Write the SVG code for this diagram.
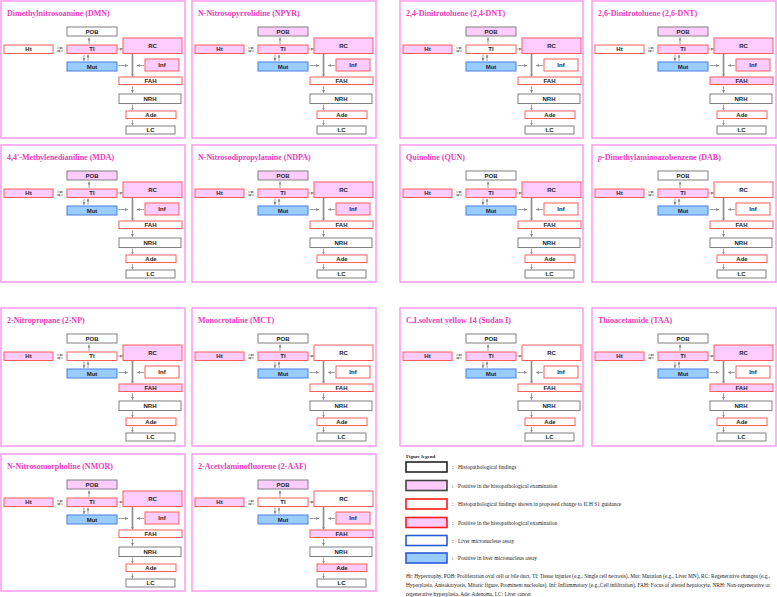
<svg xmlns="http://www.w3.org/2000/svg" width="777" height="597" viewBox="0 0 777 597">
<style>
.bg{fill:#fff}
.pb{fill:#fff;stroke:#ff9ff3;stroke-width:1.6}
.tt{font-family:"Liberation Serif","Times New Roman",serif;font-weight:bold;font-size:8px;fill:#ee3bbd}
.n rect{stroke-width:1}
.g rect{stroke:#808080}
.r rect{stroke:#ff5c5c}
.b rect{stroke:#4a7fe0}
.w rect{fill:#fff}
.p rect{fill:#ffccff}
.bl rect{fill:#99ccff}
.n text{font-family:"Liberation Sans",Arial,sans-serif;font-weight:bold;font-size:6px;fill:#222;text-anchor:middle}
.c line{stroke:#8a8a8a;stroke-width:0.8;marker-end:url(#ah)}
.c line.k{stroke-width:1.6}
.lg{font-family:"Liberation Serif","Times New Roman",serif;font-size:5.5px;fill:#222}
.lgh{font-family:"Liberation Serif","Times New Roman",serif;font-size:5px;font-weight:bold;fill:#222}
.fn{font-family:"Liberation Serif","Times New Roman",serif;font-size:5.3px;fill:#222}
.lb{stroke-width:1.6}
</style>
<defs>
<marker id="ah" markerUnits="userSpaceOnUse" markerWidth="3" markerHeight="3" refX="3" refY="1.5" orient="auto"><path d="M0,0 L3,1.5 L0,3 z" fill="#8a8a8a"/></marker>
</defs>
<rect class="bg" x="0" y="0" width="777" height="597"/>

<g id="p1" transform="translate(1,1)">
<rect class="pb" x="0" y="0" width="184" height="137"/>
<text class="tt" x="6" y="15">Dimethylnitrosoamine (DMN)</text>
<g class="c" id="p1-connectors"><line x1="56" y1="47" x2="62" y2="47"/><line x1="62" y1="50" x2="56" y2="50"/><line x1="88" y1="43" x2="88" y2="36.5"/><line x1="83" y1="53.5" x2="83" y2="60"/><line x1="87" y1="60" x2="87" y2="53.5"/><line x1="116.5" y1="48" x2="122" y2="48"/><line x1="117.5" y1="64.5" x2="127" y2="64.5"/><line x1="143" y1="64.5" x2="136" y2="64.5"/><line class="k" x1="131.5" y1="52.5" x2="131.5" y2="75.5"/><line x1="131.5" y1="85" x2="131.5" y2="92"/><line x1="131.5" y1="103.5" x2="131.5" y2="109.5"/><line x1="131.5" y1="119" x2="131.5" y2="124.5"/></g>
<g id="p1-POB" class="n g w"><rect x="66" y="26" width="50" height="9"/><text x="91" y="32.6">POB</text></g>
<g id="p1-Ht" class="n r w"><rect x="3" y="44" width="49" height="8.5"/><text x="27.5" y="50.4">Ht</text></g>
<g id="p1-TI" class="n r p"><rect x="66" y="44" width="50" height="8.5"/><text x="91" y="50.4">TI</text></g>
<g id="p1-RC" class="n r p"><rect x="122" y="37" width="59" height="15.5"/><text x="151.5" y="46.9">RC</text></g>
<g id="p1-Mut" class="n b bl"><rect x="66" y="61" width="50" height="9"/><text x="91" y="67.6">Mut</text></g>
<g id="p1-Inf" class="n r p"><rect x="144" y="58" width="34" height="12"/><text x="161" y="66.1">Inf</text></g>
<g id="p1-FAH" class="n r w"><rect x="118" y="76" width="63" height="7.5"/><text x="149.5" y="81.9">FAH</text></g>
<g id="p1-NRH" class="n g w"><rect x="118" y="93" width="62" height="9.5"/><text x="149" y="99.9">NRH</text></g>
<g id="p1-Ade" class="n r w"><rect x="125" y="110" width="50" height="7.5"/><text x="150" y="115.9">Ade</text></g>
<g id="p1-LC" class="n g w"><rect x="125" y="125" width="49" height="8"/><text x="149.5" y="131.1">LC</text></g>
</g>

<g id="p2" transform="translate(192,1)">
<rect class="pb" x="0" y="0" width="184" height="137"/>
<text class="tt" x="6" y="15">N-Nitrosopyrrolidine (NPYR)</text>
<g class="c" id="p2-connectors"><line x1="56" y1="47" x2="62" y2="47"/><line x1="62" y1="50" x2="56" y2="50"/><line x1="88" y1="43" x2="88" y2="36.5"/><line x1="83" y1="53.5" x2="83" y2="60"/><line x1="87" y1="60" x2="87" y2="53.5"/><line x1="116.5" y1="48" x2="122" y2="48"/><line x1="117.5" y1="64.5" x2="127" y2="64.5"/><line x1="143" y1="64.5" x2="136" y2="64.5"/><line class="k" x1="131.5" y1="52.5" x2="131.5" y2="75.5"/><line x1="131.5" y1="85" x2="131.5" y2="92"/><line x1="131.5" y1="103.5" x2="131.5" y2="109.5"/><line x1="131.5" y1="119" x2="131.5" y2="124.5"/></g>
<g id="p2-POB" class="n g p"><rect x="66" y="26" width="50" height="9"/><text x="91" y="32.6">POB</text></g>
<g id="p2-Ht" class="n r p"><rect x="3" y="44" width="49" height="8.5"/><text x="27.5" y="50.4">Ht</text></g>
<g id="p2-TI" class="n r p"><rect x="66" y="44" width="50" height="8.5"/><text x="91" y="50.4">TI</text></g>
<g id="p2-RC" class="n r p"><rect x="122" y="37" width="59" height="15.5"/><text x="151.5" y="46.9">RC</text></g>
<g id="p2-Mut" class="n b bl"><rect x="66" y="61" width="50" height="9"/><text x="91" y="67.6">Mut</text></g>
<g id="p2-Inf" class="n r p"><rect x="144" y="58" width="34" height="12"/><text x="161" y="66.1">Inf</text></g>
<g id="p2-FAH" class="n r w"><rect x="118" y="76" width="63" height="7.5"/><text x="149.5" y="81.9">FAH</text></g>
<g id="p2-NRH" class="n g w"><rect x="118" y="93" width="62" height="9.5"/><text x="149" y="99.9">NRH</text></g>
<g id="p2-Ade" class="n r w"><rect x="125" y="110" width="50" height="7.5"/><text x="150" y="115.9">Ade</text></g>
<g id="p2-LC" class="n g w"><rect x="125" y="125" width="49" height="8"/><text x="149.5" y="131.1">LC</text></g>
</g>

<g id="p3" transform="translate(400,1)">
<rect class="pb" x="0" y="0" width="183" height="137"/>
<text class="tt" x="6" y="15">2,4-Dinitrotoluene (2,4-DNT)</text>
<g class="c" id="p3-connectors"><line x1="56" y1="47" x2="62" y2="47"/><line x1="62" y1="50" x2="56" y2="50"/><line x1="88" y1="43" x2="88" y2="36.5"/><line x1="83" y1="53.5" x2="83" y2="60"/><line x1="87" y1="60" x2="87" y2="53.5"/><line x1="116.5" y1="48" x2="122" y2="48"/><line x1="117.5" y1="64.5" x2="127" y2="64.5"/><line x1="143" y1="64.5" x2="136" y2="64.5"/><line class="k" x1="131.5" y1="52.5" x2="131.5" y2="75.5"/><line x1="131.5" y1="85" x2="131.5" y2="92"/><line x1="131.5" y1="103.5" x2="131.5" y2="109.5"/><line x1="131.5" y1="119" x2="131.5" y2="124.5"/></g>
<g id="p3-POB" class="n g p"><rect x="66" y="26" width="50" height="9"/><text x="91" y="32.6">POB</text></g>
<g id="p3-Ht" class="n r p"><rect x="3" y="44" width="49" height="8.5"/><text x="27.5" y="50.4">Ht</text></g>
<g id="p3-TI" class="n r w"><rect x="66" y="44" width="50" height="8.5"/><text x="91" y="50.4">TI</text></g>
<g id="p3-RC" class="n r p"><rect x="122" y="37" width="59" height="15.5"/><text x="151.5" y="46.9">RC</text></g>
<g id="p3-Mut" class="n b bl"><rect x="66" y="61" width="50" height="9"/><text x="91" y="67.6">Mut</text></g>
<g id="p3-Inf" class="n r w"><rect x="144" y="58" width="34" height="12"/><text x="161" y="66.1">Inf</text></g>
<g id="p3-FAH" class="n r w"><rect x="118" y="76" width="63" height="7.5"/><text x="149.5" y="81.9">FAH</text></g>
<g id="p3-NRH" class="n g w"><rect x="118" y="93" width="62" height="9.5"/><text x="149" y="99.9">NRH</text></g>
<g id="p3-Ade" class="n r w"><rect x="125" y="110" width="50" height="7.5"/><text x="150" y="115.9">Ade</text></g>
<g id="p3-LC" class="n g w"><rect x="125" y="125" width="49" height="8"/><text x="149.5" y="131.1">LC</text></g>
</g>

<g id="p4" transform="translate(592,1)">
<rect class="pb" x="0" y="0" width="184" height="137"/>
<text class="tt" x="6" y="15">2,6-Dinitrotoluene (2,6-DNT)</text>
<g class="c" id="p4-connectors"><line x1="56" y1="47" x2="62" y2="47"/><line x1="62" y1="50" x2="56" y2="50"/><line x1="88" y1="43" x2="88" y2="36.5"/><line x1="83" y1="53.5" x2="83" y2="60"/><line x1="87" y1="60" x2="87" y2="53.5"/><line x1="116.5" y1="48" x2="122" y2="48"/><line x1="117.5" y1="64.5" x2="127" y2="64.5"/><line x1="143" y1="64.5" x2="136" y2="64.5"/><line class="k" x1="131.5" y1="52.5" x2="131.5" y2="75.5"/><line x1="131.5" y1="85" x2="131.5" y2="92"/><line x1="131.5" y1="103.5" x2="131.5" y2="109.5"/><line x1="131.5" y1="119" x2="131.5" y2="124.5"/></g>
<g id="p4-POB" class="n g p"><rect x="66" y="26" width="50" height="9"/><text x="91" y="32.6">POB</text></g>
<g id="p4-Ht" class="n r w"><rect x="3" y="44" width="49" height="8.5"/><text x="27.5" y="50.4">Ht</text></g>
<g id="p4-TI" class="n r p"><rect x="66" y="44" width="50" height="8.5"/><text x="91" y="50.4">TI</text></g>
<g id="p4-RC" class="n r p"><rect x="122" y="37" width="59" height="15.5"/><text x="151.5" y="46.9">RC</text></g>
<g id="p4-Mut" class="n b bl"><rect x="66" y="61" width="50" height="9"/><text x="91" y="67.6">Mut</text></g>
<g id="p4-Inf" class="n r p"><rect x="144" y="58" width="34" height="12"/><text x="161" y="66.1">Inf</text></g>
<g id="p4-FAH" class="n r p"><rect x="118" y="76" width="63" height="7.5"/><text x="149.5" y="81.9">FAH</text></g>
<g id="p4-NRH" class="n g w"><rect x="118" y="93" width="62" height="9.5"/><text x="149" y="99.9">NRH</text></g>
<g id="p4-Ade" class="n r w"><rect x="125" y="110" width="50" height="7.5"/><text x="150" y="115.9">Ade</text></g>
<g id="p4-LC" class="n g w"><rect x="125" y="125" width="49" height="8"/><text x="149.5" y="131.1">LC</text></g>
</g>

<g id="p5" transform="translate(1,145)">
<rect class="pb" x="0" y="0" width="184" height="137"/>
<text class="tt" x="6" y="15">4,4'-Methylenedianiline (MDA)</text>
<g class="c" id="p5-connectors"><line x1="56" y1="47" x2="62" y2="47"/><line x1="62" y1="50" x2="56" y2="50"/><line x1="88" y1="43" x2="88" y2="36.5"/><line x1="83" y1="53.5" x2="83" y2="60"/><line x1="87" y1="60" x2="87" y2="53.5"/><line x1="116.5" y1="48" x2="122" y2="48"/><line x1="117.5" y1="64.5" x2="127" y2="64.5"/><line x1="143" y1="64.5" x2="136" y2="64.5"/><line class="k" x1="131.5" y1="52.5" x2="131.5" y2="75.5"/><line x1="131.5" y1="85" x2="131.5" y2="92"/><line x1="131.5" y1="103.5" x2="131.5" y2="109.5"/><line x1="131.5" y1="119" x2="131.5" y2="124.5"/></g>
<g id="p5-POB" class="n g p"><rect x="66" y="26" width="50" height="9"/><text x="91" y="32.6">POB</text></g>
<g id="p5-Ht" class="n r p"><rect x="3" y="44" width="49" height="8.5"/><text x="27.5" y="50.4">Ht</text></g>
<g id="p5-TI" class="n r p"><rect x="66" y="44" width="50" height="8.5"/><text x="91" y="50.4">TI</text></g>
<g id="p5-RC" class="n r p"><rect x="122" y="37" width="59" height="15.5"/><text x="151.5" y="46.9">RC</text></g>
<g id="p5-Mut" class="n b bl"><rect x="66" y="61" width="50" height="9"/><text x="91" y="67.6">Mut</text></g>
<g id="p5-Inf" class="n r p"><rect x="144" y="58" width="34" height="12"/><text x="161" y="66.1">Inf</text></g>
<g id="p5-FAH" class="n r w"><rect x="118" y="76" width="63" height="7.5"/><text x="149.5" y="81.9">FAH</text></g>
<g id="p5-NRH" class="n g w"><rect x="118" y="93" width="62" height="9.5"/><text x="149" y="99.9">NRH</text></g>
<g id="p5-Ade" class="n r w"><rect x="125" y="110" width="50" height="7.5"/><text x="150" y="115.9">Ade</text></g>
<g id="p5-LC" class="n g w"><rect x="125" y="125" width="49" height="8"/><text x="149.5" y="131.1">LC</text></g>
</g>

<g id="p6" transform="translate(192,145)">
<rect class="pb" x="0" y="0" width="184" height="137"/>
<text class="tt" x="6" y="15">N-Nitrosodipropylamine (NDPA)</text>
<g class="c" id="p6-connectors"><line x1="56" y1="47" x2="62" y2="47"/><line x1="62" y1="50" x2="56" y2="50"/><line x1="88" y1="43" x2="88" y2="36.5"/><line x1="83" y1="53.5" x2="83" y2="60"/><line x1="87" y1="60" x2="87" y2="53.5"/><line x1="116.5" y1="48" x2="122" y2="48"/><line x1="117.5" y1="64.5" x2="127" y2="64.5"/><line x1="143" y1="64.5" x2="136" y2="64.5"/><line class="k" x1="131.5" y1="52.5" x2="131.5" y2="75.5"/><line x1="131.5" y1="85" x2="131.5" y2="92"/><line x1="131.5" y1="103.5" x2="131.5" y2="109.5"/><line x1="131.5" y1="119" x2="131.5" y2="124.5"/></g>
<g id="p6-POB" class="n g p"><rect x="66" y="26" width="50" height="9"/><text x="91" y="32.6">POB</text></g>
<g id="p6-Ht" class="n r p"><rect x="3" y="44" width="49" height="8.5"/><text x="27.5" y="50.4">Ht</text></g>
<g id="p6-TI" class="n r p"><rect x="66" y="44" width="50" height="8.5"/><text x="91" y="50.4">TI</text></g>
<g id="p6-RC" class="n r p"><rect x="122" y="37" width="59" height="15.5"/><text x="151.5" y="46.9">RC</text></g>
<g id="p6-Mut" class="n b bl"><rect x="66" y="61" width="50" height="9"/><text x="91" y="67.6">Mut</text></g>
<g id="p6-Inf" class="n r p"><rect x="144" y="58" width="34" height="12"/><text x="161" y="66.1">Inf</text></g>
<g id="p6-FAH" class="n r w"><rect x="118" y="76" width="63" height="7.5"/><text x="149.5" y="81.9">FAH</text></g>
<g id="p6-NRH" class="n g w"><rect x="118" y="93" width="62" height="9.5"/><text x="149" y="99.9">NRH</text></g>
<g id="p6-Ade" class="n r w"><rect x="125" y="110" width="50" height="7.5"/><text x="150" y="115.9">Ade</text></g>
<g id="p6-LC" class="n g w"><rect x="125" y="125" width="49" height="8"/><text x="149.5" y="131.1">LC</text></g>
</g>

<g id="p7" transform="translate(400,145)">
<rect class="pb" x="0" y="0" width="183" height="137"/>
<text class="tt" x="6" y="15">Quinoline (QUN)</text>
<g class="c" id="p7-connectors"><line x1="56" y1="47" x2="62" y2="47"/><line x1="62" y1="50" x2="56" y2="50"/><line x1="88" y1="43" x2="88" y2="36.5"/><line x1="83" y1="53.5" x2="83" y2="60"/><line x1="87" y1="60" x2="87" y2="53.5"/><line x1="116.5" y1="48" x2="122" y2="48"/><line x1="117.5" y1="64.5" x2="127" y2="64.5"/><line x1="143" y1="64.5" x2="136" y2="64.5"/><line class="k" x1="131.5" y1="52.5" x2="131.5" y2="75.5"/><line x1="131.5" y1="85" x2="131.5" y2="92"/><line x1="131.5" y1="103.5" x2="131.5" y2="109.5"/><line x1="131.5" y1="119" x2="131.5" y2="124.5"/></g>
<g id="p7-POB" class="n g w"><rect x="66" y="26" width="50" height="9"/><text x="91" y="32.6">POB</text></g>
<g id="p7-Ht" class="n r p"><rect x="3" y="44" width="49" height="8.5"/><text x="27.5" y="50.4">Ht</text></g>
<g id="p7-TI" class="n r p"><rect x="66" y="44" width="50" height="8.5"/><text x="91" y="50.4">TI</text></g>
<g id="p7-RC" class="n r p"><rect x="122" y="37" width="59" height="15.5"/><text x="151.5" y="46.9">RC</text></g>
<g id="p7-Mut" class="n b bl"><rect x="66" y="61" width="50" height="9"/><text x="91" y="67.6">Mut</text></g>
<g id="p7-Inf" class="n r w"><rect x="144" y="58" width="34" height="12"/><text x="161" y="66.1">Inf</text></g>
<g id="p7-FAH" class="n r w"><rect x="118" y="76" width="63" height="7.5"/><text x="149.5" y="81.9">FAH</text></g>
<g id="p7-NRH" class="n g w"><rect x="118" y="93" width="62" height="9.5"/><text x="149" y="99.9">NRH</text></g>
<g id="p7-Ade" class="n r w"><rect x="125" y="110" width="50" height="7.5"/><text x="150" y="115.9">Ade</text></g>
<g id="p7-LC" class="n g w"><rect x="125" y="125" width="49" height="8"/><text x="149.5" y="131.1">LC</text></g>
</g>

<g id="p8" transform="translate(592,145)">
<rect class="pb" x="0" y="0" width="184" height="137"/>
<text class="tt" x="6" y="15"><tspan font-style="italic">p</tspan>-Dimethylaminoazobenzene (DAB)</text>
<g class="c" id="p8-connectors"><line x1="56" y1="47" x2="62" y2="47"/><line x1="62" y1="50" x2="56" y2="50"/><line x1="88" y1="43" x2="88" y2="36.5"/><line x1="83" y1="53.5" x2="83" y2="60"/><line x1="87" y1="60" x2="87" y2="53.5"/><line x1="116.5" y1="48" x2="122" y2="48"/><line x1="117.5" y1="64.5" x2="127" y2="64.5"/><line x1="143" y1="64.5" x2="136" y2="64.5"/><line class="k" x1="131.5" y1="52.5" x2="131.5" y2="75.5"/><line x1="131.5" y1="85" x2="131.5" y2="92"/><line x1="131.5" y1="103.5" x2="131.5" y2="109.5"/><line x1="131.5" y1="119" x2="131.5" y2="124.5"/></g>
<g id="p8-POB" class="n g w"><rect x="66" y="26" width="50" height="9"/><text x="91" y="32.6">POB</text></g>
<g id="p8-Ht" class="n r p"><rect x="3" y="44" width="49" height="8.5"/><text x="27.5" y="50.4">Ht</text></g>
<g id="p8-TI" class="n r p"><rect x="66" y="44" width="50" height="8.5"/><text x="91" y="50.4">TI</text></g>
<g id="p8-RC" class="n r w"><rect x="122" y="37" width="59" height="15.5"/><text x="151.5" y="46.9">RC</text></g>
<g id="p8-Mut" class="n b bl"><rect x="66" y="61" width="50" height="9"/><text x="91" y="67.6">Mut</text></g>
<g id="p8-Inf" class="n r w"><rect x="144" y="58" width="34" height="12"/><text x="161" y="66.1">Inf</text></g>
<g id="p8-FAH" class="n r w"><rect x="118" y="76" width="63" height="7.5"/><text x="149.5" y="81.9">FAH</text></g>
<g id="p8-NRH" class="n g w"><rect x="118" y="93" width="62" height="9.5"/><text x="149" y="99.9">NRH</text></g>
<g id="p8-Ade" class="n r w"><rect x="125" y="110" width="50" height="7.5"/><text x="150" y="115.9">Ade</text></g>
<g id="p8-LC" class="n g w"><rect x="125" y="125" width="49" height="8"/><text x="149.5" y="131.1">LC</text></g>
</g>

<g id="p9" transform="translate(1,308)">
<rect class="pb" x="0" y="0" width="184" height="138"/>
<text class="tt" x="6" y="15">2-Nitropropane (2-NP)</text>
<g class="c" id="p9-connectors"><line x1="56" y1="47" x2="62" y2="47"/><line x1="62" y1="50" x2="56" y2="50"/><line x1="88" y1="43" x2="88" y2="36.5"/><line x1="83" y1="53.5" x2="83" y2="60"/><line x1="87" y1="60" x2="87" y2="53.5"/><line x1="116.5" y1="48" x2="122" y2="48"/><line x1="117.5" y1="64.5" x2="127" y2="64.5"/><line x1="143" y1="64.5" x2="136" y2="64.5"/><line class="k" x1="131.5" y1="52.5" x2="131.5" y2="75.5"/><line x1="131.5" y1="85" x2="131.5" y2="92"/><line x1="131.5" y1="103.5" x2="131.5" y2="109.5"/><line x1="131.5" y1="119" x2="131.5" y2="124.5"/></g>
<g id="p9-POB" class="n g w"><rect x="66" y="26" width="50" height="9"/><text x="91" y="32.6">POB</text></g>
<g id="p9-Ht" class="n r p"><rect x="3" y="44" width="49" height="8.5"/><text x="27.5" y="50.4">Ht</text></g>
<g id="p9-TI" class="n r w"><rect x="66" y="44" width="50" height="8.5"/><text x="91" y="50.4">TI</text></g>
<g id="p9-RC" class="n r p"><rect x="122" y="37" width="59" height="15.5"/><text x="151.5" y="46.9">RC</text></g>
<g id="p9-Mut" class="n b bl"><rect x="66" y="61" width="50" height="9"/><text x="91" y="67.6">Mut</text></g>
<g id="p9-Inf" class="n r w"><rect x="144" y="58" width="34" height="12"/><text x="161" y="66.1">Inf</text></g>
<g id="p9-FAH" class="n r p"><rect x="118" y="76" width="63" height="7.5"/><text x="149.5" y="81.9">FAH</text></g>
<g id="p9-NRH" class="n g w"><rect x="118" y="93" width="62" height="9.5"/><text x="149" y="99.9">NRH</text></g>
<g id="p9-Ade" class="n r w"><rect x="125" y="110" width="50" height="7.5"/><text x="150" y="115.9">Ade</text></g>
<g id="p9-LC" class="n g w"><rect x="125" y="125" width="49" height="8"/><text x="149.5" y="131.1">LC</text></g>
</g>

<g id="p10" transform="translate(192,308)">
<rect class="pb" x="0" y="0" width="184" height="138"/>
<text class="tt" x="6" y="15">Monocrotaline (MCT)</text>
<g class="c" id="p10-connectors"><line x1="56" y1="47" x2="62" y2="47"/><line x1="62" y1="50" x2="56" y2="50"/><line x1="88" y1="43" x2="88" y2="36.5"/><line x1="83" y1="53.5" x2="83" y2="60"/><line x1="87" y1="60" x2="87" y2="53.5"/><line x1="116.5" y1="48" x2="122" y2="48"/><line x1="117.5" y1="64.5" x2="127" y2="64.5"/><line x1="143" y1="64.5" x2="136" y2="64.5"/><line class="k" x1="131.5" y1="52.5" x2="131.5" y2="75.5"/><line x1="131.5" y1="85" x2="131.5" y2="92"/><line x1="131.5" y1="103.5" x2="131.5" y2="109.5"/><line x1="131.5" y1="119" x2="131.5" y2="124.5"/></g>
<g id="p10-POB" class="n g w"><rect x="66" y="26" width="50" height="9"/><text x="91" y="32.6">POB</text></g>
<g id="p10-Ht" class="n r p"><rect x="3" y="44" width="49" height="8.5"/><text x="27.5" y="50.4">Ht</text></g>
<g id="p10-TI" class="n r p"><rect x="66" y="44" width="50" height="8.5"/><text x="91" y="50.4">TI</text></g>
<g id="p10-RC" class="n r w"><rect x="122" y="37" width="59" height="15.5"/><text x="151.5" y="46.9">RC</text></g>
<g id="p10-Mut" class="n b bl"><rect x="66" y="61" width="50" height="9"/><text x="91" y="67.6">Mut</text></g>
<g id="p10-Inf" class="n r w"><rect x="144" y="58" width="34" height="12"/><text x="161" y="66.1">Inf</text></g>
<g id="p10-FAH" class="n r w"><rect x="118" y="76" width="63" height="7.5"/><text x="149.5" y="81.9">FAH</text></g>
<g id="p10-NRH" class="n g w"><rect x="118" y="93" width="62" height="9.5"/><text x="149" y="99.9">NRH</text></g>
<g id="p10-Ade" class="n r w"><rect x="125" y="110" width="50" height="7.5"/><text x="150" y="115.9">Ade</text></g>
<g id="p10-LC" class="n g w"><rect x="125" y="125" width="49" height="8"/><text x="149.5" y="131.1">LC</text></g>
</g>

<g id="p11" transform="translate(400,308)">
<rect class="pb" x="0" y="0" width="183" height="138"/>
<text class="tt" x="6" y="15">C.I.solvent yellow 14 (Sudan I)</text>
<g class="c" id="p11-connectors"><line x1="56" y1="47" x2="62" y2="47"/><line x1="62" y1="50" x2="56" y2="50"/><line x1="88" y1="43" x2="88" y2="36.5"/><line x1="83" y1="53.5" x2="83" y2="60"/><line x1="87" y1="60" x2="87" y2="53.5"/><line x1="116.5" y1="48" x2="122" y2="48"/><line x1="117.5" y1="64.5" x2="127" y2="64.5"/><line x1="143" y1="64.5" x2="136" y2="64.5"/><line class="k" x1="131.5" y1="52.5" x2="131.5" y2="75.5"/><line x1="131.5" y1="85" x2="131.5" y2="92"/><line x1="131.5" y1="103.5" x2="131.5" y2="109.5"/><line x1="131.5" y1="119" x2="131.5" y2="124.5"/></g>
<g id="p11-POB" class="n g w"><rect x="66" y="26" width="50" height="9"/><text x="91" y="32.6">POB</text></g>
<g id="p11-Ht" class="n r p"><rect x="3" y="44" width="49" height="8.5"/><text x="27.5" y="50.4">Ht</text></g>
<g id="p11-TI" class="n r p"><rect x="66" y="44" width="50" height="8.5"/><text x="91" y="50.4">TI</text></g>
<g id="p11-RC" class="n r w"><rect x="122" y="37" width="59" height="15.5"/><text x="151.5" y="46.9">RC</text></g>
<g id="p11-Mut" class="n b bl"><rect x="66" y="61" width="50" height="9"/><text x="91" y="67.6">Mut</text></g>
<g id="p11-Inf" class="n r w"><rect x="144" y="58" width="34" height="12"/><text x="161" y="66.1">Inf</text></g>
<g id="p11-FAH" class="n r w"><rect x="118" y="76" width="63" height="7.5"/><text x="149.5" y="81.9">FAH</text></g>
<g id="p11-NRH" class="n g w"><rect x="118" y="93" width="62" height="9.5"/><text x="149" y="99.9">NRH</text></g>
<g id="p11-Ade" class="n r w"><rect x="125" y="110" width="50" height="7.5"/><text x="150" y="115.9">Ade</text></g>
<g id="p11-LC" class="n g w"><rect x="125" y="125" width="49" height="8"/><text x="149.5" y="131.1">LC</text></g>
</g>

<g id="p12" transform="translate(592,308)">
<rect class="pb" x="0" y="0" width="184" height="138"/>
<text class="tt" x="6" y="15">Thioacetamide (TAA)</text>
<g class="c" id="p12-connectors"><line x1="56" y1="47" x2="62" y2="47"/><line x1="62" y1="50" x2="56" y2="50"/><line x1="88" y1="43" x2="88" y2="36.5"/><line x1="83" y1="53.5" x2="83" y2="60"/><line x1="87" y1="60" x2="87" y2="53.5"/><line x1="116.5" y1="48" x2="122" y2="48"/><line x1="117.5" y1="64.5" x2="127" y2="64.5"/><line x1="143" y1="64.5" x2="136" y2="64.5"/><line class="k" x1="131.5" y1="52.5" x2="131.5" y2="75.5"/><line x1="131.5" y1="85" x2="131.5" y2="92"/><line x1="131.5" y1="103.5" x2="131.5" y2="109.5"/><line x1="131.5" y1="119" x2="131.5" y2="124.5"/></g>
<g id="p12-POB" class="n g w"><rect x="66" y="26" width="50" height="9"/><text x="91" y="32.6">POB</text></g>
<g id="p12-Ht" class="n r p"><rect x="3" y="44" width="49" height="8.5"/><text x="27.5" y="50.4">Ht</text></g>
<g id="p12-TI" class="n r p"><rect x="66" y="44" width="50" height="8.5"/><text x="91" y="50.4">TI</text></g>
<g id="p12-RC" class="n r p"><rect x="122" y="37" width="59" height="15.5"/><text x="151.5" y="46.9">RC</text></g>
<g id="p12-Mut" class="n b bl"><rect x="66" y="61" width="50" height="9"/><text x="91" y="67.6">Mut</text></g>
<g id="p12-Inf" class="n r w"><rect x="144" y="58" width="34" height="12"/><text x="161" y="66.1">Inf</text></g>
<g id="p12-FAH" class="n r p"><rect x="118" y="76" width="63" height="7.5"/><text x="149.5" y="81.9">FAH</text></g>
<g id="p12-NRH" class="n g w"><rect x="118" y="93" width="62" height="9.5"/><text x="149" y="99.9">NRH</text></g>
<g id="p12-Ade" class="n r w"><rect x="125" y="110" width="50" height="7.5"/><text x="150" y="115.9">Ade</text></g>
<g id="p12-LC" class="n g w"><rect x="125" y="125" width="49" height="8"/><text x="149.5" y="131.1">LC</text></g>
</g>

<g id="p13" transform="translate(1,454)">
<rect class="pb" x="0" y="0" width="184" height="137"/>
<text class="tt" x="6" y="15">N-Nitrosomorpholine (NMOR)</text>
<g class="c" id="p13-connectors"><line x1="56" y1="47" x2="62" y2="47"/><line x1="62" y1="50" x2="56" y2="50"/><line x1="88" y1="43" x2="88" y2="36.5"/><line x1="83" y1="53.5" x2="83" y2="60"/><line x1="87" y1="60" x2="87" y2="53.5"/><line x1="116.5" y1="48" x2="122" y2="48"/><line x1="117.5" y1="64.5" x2="127" y2="64.5"/><line x1="143" y1="64.5" x2="136" y2="64.5"/><line class="k" x1="131.5" y1="52.5" x2="131.5" y2="75.5"/><line x1="131.5" y1="85" x2="131.5" y2="92"/><line x1="131.5" y1="103.5" x2="131.5" y2="109.5"/><line x1="131.5" y1="119" x2="131.5" y2="124.5"/></g>
<g id="p13-POB" class="n g p"><rect x="66" y="26" width="50" height="9"/><text x="91" y="32.6">POB</text></g>
<g id="p13-Ht" class="n r p"><rect x="3" y="44" width="49" height="8.5"/><text x="27.5" y="50.4">Ht</text></g>
<g id="p13-TI" class="n r p"><rect x="66" y="44" width="50" height="8.5"/><text x="91" y="50.4">TI</text></g>
<g id="p13-RC" class="n r p"><rect x="122" y="37" width="59" height="15.5"/><text x="151.5" y="46.9">RC</text></g>
<g id="p13-Mut" class="n b bl"><rect x="66" y="61" width="50" height="9"/><text x="91" y="67.6">Mut</text></g>
<g id="p13-Inf" class="n r p"><rect x="144" y="58" width="34" height="12"/><text x="161" y="66.1">Inf</text></g>
<g id="p13-FAH" class="n r w"><rect x="118" y="76" width="63" height="7.5"/><text x="149.5" y="81.9">FAH</text></g>
<g id="p13-NRH" class="n g w"><rect x="118" y="93" width="62" height="9.5"/><text x="149" y="99.9">NRH</text></g>
<g id="p13-Ade" class="n r w"><rect x="125" y="110" width="50" height="7.5"/><text x="150" y="115.9">Ade</text></g>
<g id="p13-LC" class="n g w"><rect x="125" y="125" width="49" height="8"/><text x="149.5" y="131.1">LC</text></g>
</g>

<g id="p14" transform="translate(192,454)">
<rect class="pb" x="0" y="0" width="184" height="137"/>
<text class="tt" x="6" y="15">2-Acetylaminofluorene (2-AAF)</text>
<g class="c" id="p14-connectors"><line x1="56" y1="47" x2="62" y2="47"/><line x1="62" y1="50" x2="56" y2="50"/><line x1="88" y1="43" x2="88" y2="36.5"/><line x1="83" y1="53.5" x2="83" y2="60"/><line x1="87" y1="60" x2="87" y2="53.5"/><line x1="116.5" y1="48" x2="122" y2="48"/><line x1="117.5" y1="64.5" x2="127" y2="64.5"/><line x1="143" y1="64.5" x2="136" y2="64.5"/><line class="k" x1="131.5" y1="52.5" x2="131.5" y2="75.5"/><line x1="131.5" y1="85" x2="131.5" y2="92"/><line x1="131.5" y1="103.5" x2="131.5" y2="109.5"/><line x1="131.5" y1="119" x2="131.5" y2="124.5"/></g>
<g id="p14-POB" class="n g p"><rect x="66" y="26" width="50" height="9"/><text x="91" y="32.6">POB</text></g>
<g id="p14-Ht" class="n r p"><rect x="3" y="44" width="49" height="8.5"/><text x="27.5" y="50.4">Ht</text></g>
<g id="p14-TI" class="n r w"><rect x="66" y="44" width="50" height="8.5"/><text x="91" y="50.4">TI</text></g>
<g id="p14-RC" class="n r w"><rect x="122" y="37" width="59" height="15.5"/><text x="151.5" y="46.9">RC</text></g>
<g id="p14-Mut" class="n b bl"><rect x="66" y="61" width="50" height="9"/><text x="91" y="67.6">Mut</text></g>
<g id="p14-Inf" class="n r p"><rect x="144" y="58" width="34" height="12"/><text x="161" y="66.1">Inf</text></g>
<g id="p14-FAH" class="n r p"><rect x="118" y="76" width="63" height="7.5"/><text x="149.5" y="81.9">FAH</text></g>
<g id="p14-NRH" class="n g w"><rect x="118" y="93" width="62" height="9.5"/><text x="149" y="99.9">NRH</text></g>
<g id="p14-Ade" class="n r p"><rect x="125" y="110" width="50" height="7.5"/><text x="150" y="115.9">Ade</text></g>
<g id="p14-LC" class="n g w"><rect x="125" y="125" width="49" height="8"/><text x="149.5" y="131.1">LC</text></g>
</g>

<g id="legend">
<text class="lgh" x="406" y="458">Figure legend</text>
<rect class="lb" x="406" y="462" width="41" height="10" fill="#fff" stroke="#222"/>
<text class="lg" x="452" y="469">:</text><text class="lg" x="458" y="469">Histopathological findings</text>
<rect class="lb" x="406" y="480.5" width="41" height="10" fill="#ffccff" stroke="#444"/>
<text class="lg" x="452" y="487.5">:</text><text class="lg" x="458" y="487.5">Positive in the histopathological examination</text>
<rect class="lb" x="406" y="499" width="41" height="10" fill="#fff" stroke="#ff1a1a"/>
<text class="lg" x="452" y="506">:</text><text class="lg" x="458" y="506">Histopathological findings shown in proposed change to ICH S1 guidance</text>
<rect class="lb" x="406" y="517.5" width="41" height="10" fill="#ffccff" stroke="#ff1a1a"/>
<text class="lg" x="452" y="524.5">:</text><text class="lg" x="458" y="524.5">Positive in the histopathological examination</text>
<rect class="lb" x="406" y="535.5" width="41" height="10" fill="#fff" stroke="#2a5bd7"/>
<text class="lg" x="452" y="542.5">:</text><text class="lg" x="458" y="542.5">Liver micronucleus assay</text>
<rect class="lb" x="406" y="553" width="41" height="10" fill="#99ccff" stroke="#2a5bd7"/>
<text class="lg" x="452" y="560">:</text><text class="lg" x="458" y="560">Positive in liver micronucleus assay</text>
<text class="fn" x="406" y="578" textLength="364" lengthAdjust="spacingAndGlyphs">Ht: Hypertrophy, POB: Proliferation oval cell or bile duct, TI: Tissue injuries (e.g., Single cell necrosis), Mut: Mutation (e.g., Liver MN), RC: Regenerative changes (e.g.,</text>
<text class="fn" x="406" y="587" textLength="364" lengthAdjust="spacingAndGlyphs">Hyperplasia, Anisokaryosis, Mitotic figure, Prominent nucleolus), Inf: Inflammatory (e.g.,Cell infiltration), FAH: Focus of altered hepatocyte, NRH: Non-regenerative or</text>
<text class="fn" x="406" y="595.5">regenerative hyperplasia, Ade: Adenoma, LC: Liver cancer</text>
</g>
</svg>
